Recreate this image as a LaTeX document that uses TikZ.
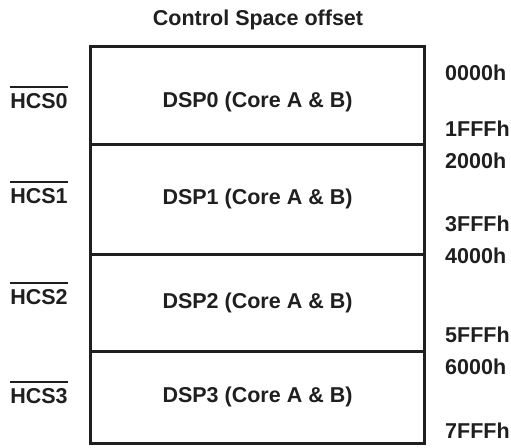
\documentclass[tikz,border=0pt]{standalone}
\usepackage{fontspec}
\setmainfont{Liberation Sans}
\usetikzlibrary{positioning}

\begin{document}
\begin{tikzpicture}[
  x=1pt, y=-1pt,
  node distance=0pt,
  every node/.style={font=\fontsize{21.5}{25}\selectfont\bfseries, text=black!88},
  region/.style={draw=black!88, rectangle, line width=3pt, minimum width=334pt, outer sep=0pt, inner sep=0pt},
  addr/.style={anchor=west, inner sep=0pt},
  sig/.style={inner sep=0pt},
  bar/.style={line width=2pt, black!88}
]
\useasboundingbox (0,0) rectangle (511,447);

% Nodes
\node (title) at (258,20) {Control Space offset};
\node[region, minimum height=98pt, text height=30pt, anchor=north] (dsp0) at (257.5,46) {DSP0 (Core A \& B)};
\node[region, minimum height=110pt, below=of dsp0] (dsp1) {DSP1 (Core A \& B)};
\node[region, minimum height=97pt, below=of dsp1] (dsp2) {DSP2 (Core A \& B)};
\node[region, minimum height=92pt, below=of dsp2] (dsp3) {DSP3 (Core A \& B)};

% Address offsets
\node[addr] (a0) at (445,73) {0000h};
\node[addr] (a1) at (445,129) {1FFFh};
\node[addr] (a2) at (445,161) {2000h};
\node[addr] (a3) at (445,224) {3FFFh};
\node[addr] (a4) at (445,256) {4000h};
\node[addr] (a5) at (445,335) {5FFFh};
\node[addr] (a6) at (445,367) {6000h};
\node[addr] (a7) at (445,431) {7FFFh};

% Chip selects
\node[sig] (hcs0) at (39,101) {HCS0};
\node[sig] (hcs1) at (39,196) {HCS1};
\node[sig] (hcs2) at (39,297) {HCS2};
\node[sig] (hcs3) at (39,396) {HCS3};

% Bars over chip selects
\draw[bar] ([yshift=6pt]hcs0.north west) -- ([yshift=6pt]hcs0.north east);
\draw[bar] ([yshift=6pt]hcs1.north west) -- ([yshift=6pt]hcs1.north east);
\draw[bar] ([yshift=6pt]hcs2.north west) -- ([yshift=6pt]hcs2.north east);
\draw[bar] ([yshift=6pt]hcs3.north west) -- ([yshift=6pt]hcs3.north east);
\end{tikzpicture}
\end{document}
